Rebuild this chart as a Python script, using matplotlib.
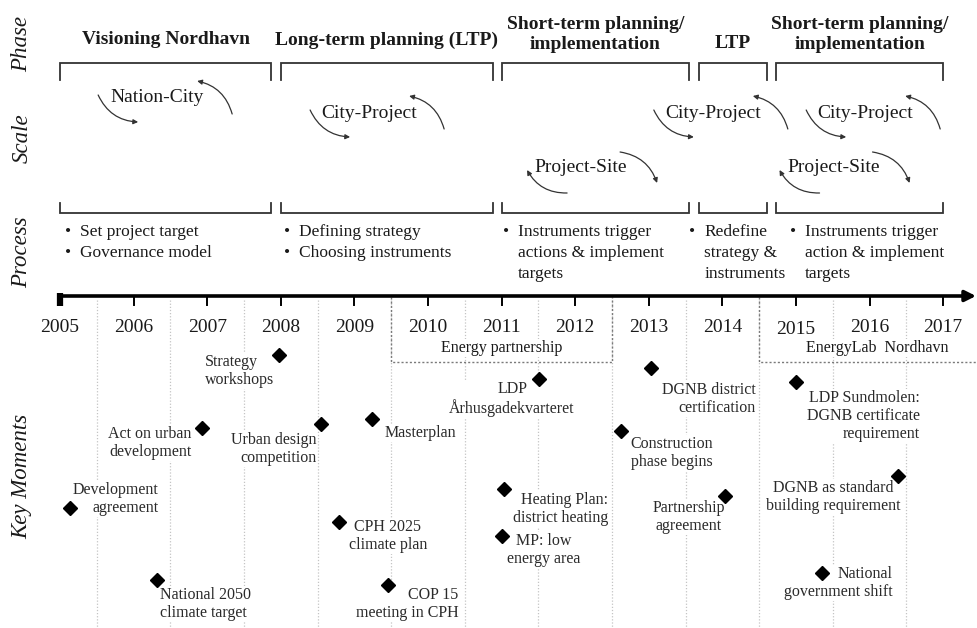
import matplotlib
matplotlib.use('Agg')
import matplotlib.pyplot as plt
from matplotlib.patches import FancyArrowPatch

SERIF = ['Liberation Serif', 'DejaVu Serif']
plt.rcParams['font.family'] = SERIF
INK = '#1a1a1a'

# ---------------- data ----------------
years = list(range(2005, 2018))

phase_names = ["Visioning Nordhavn", "Long-term planning (LTP)",
               "Short-term planning/\nimplementation", "LTP",
               "Short-term planning/\nimplementation"]
phase_starts = [2005.0, 2008.0, 2011.0, 2013.68, 2014.73]
phase_ends = [2007.87, 2010.88, 2013.55, 2014.60, 2017.0]

scale_labels = ["Nation-City", "City-Project", "City-Project", "City-Project",
                "Project-Site", "Project-Site"]
scale_x = [2006.32, 2009.20, 2013.87, 2015.94, 2012.08, 2015.51]
scale_kind = ["up", "up", "up", "up", "down", "down"]

process_bullets = [
    ["Set project target", "Governance model"],
    ["Defining strategy", "Choosing instruments"],
    ["Instruments trigger\nactions & implement\ntargets"],
    ["Redefine\nstrategy &\ninstruments"],
    ["Instruments trigger\naction & implement\ntargets"],
]

band_names = ["Energy partnership", "EnergyLab  Nordhavn"]
band_starts = [2009.5, 2014.5]
band_ends = [2012.5, None]

event_names = [
    "Development\nagreement", "National 2050\nclimate target",
    "Act on urban\ndevelopment", "Strategy\nworkshops",
    "Urban design\ncompetition", "CPH 2025\nclimate plan", "Masterplan",
    "COP 15\nmeeting in CPH", "LDP\nÅrhusgadekvarteret",
    "Heating Plan:\ndistrict heating", "MP: low\nenergy area",
    "Construction\nphase begins", "DGNB district\ncertification",
    "Partnership\nagreement", "LDP Sundmolen:\nDGNB certificate\nrequirement",
    "DGNB as standard\nbuilding requirement", "National\ngovernment shift",
]
event_years = [2005.14, 2006.32, 2006.93, 2007.98, 2008.55, 2008.79, 2009.24,
               2009.46, 2011.51, 2011.03, 2011.00, 2012.62, 2013.03, 2014.04,
               2015.00, 2016.39, 2015.35]
# vertical row of each moment (pixels from top of figure)
event_rows = [508, 580, 428, 355, 424, 522, 419, 585, 379, 489, 536, 431,
              368, 496, 382, 476, 573]

# ---------------- layout ----------------
W, H = 978, 628
PXY = 73.6            # pixels per year
X0 = 60               # pixel position of 2005
fig = plt.figure(figsize=(W / 100, H / 100), dpi=100)
ax = fig.add_axes([0, 0, 1, 1])
ax.set_xlim(2005 - X0 / PXY, 2005 + (W - X0) / PXY)
ax.set_ylim(H, 0)
ax.axis('off')


def px(n):
    return n / PXY


# side labels
for lab, yc in [("Phase", 44), ("Scale", 138), ("Process", 252), ("Key Moments", 476)]:
    ax.text(2005 - px(38), yc, lab, rotation=90, ha='center', va='center',
            fontsize=16.5, style='italic', color=INK)

# phase brackets + labels
for name, a, b in zip(phase_names, phase_starts, phase_ends):
    ax.plot([a, a, b, b], [80, 63, 63, 80], color='#333333', lw=1.3,
            solid_joinstyle='miter')
    ax.plot([a, a, b, b], [203, 213, 213, 203], color='#333333', lw=1.3,
            solid_joinstyle='miter')
    yc = 40 if '\n' not in name else 34.5
    if name == "LTP":
        yc = 44
    ax.text((a + b) / 2, yc, name, ha='center', va='center', fontsize=14,
            fontweight='bold', color=INK, linespacing=1.3)

# scale cycles
ARW = dict(arrowstyle='-|>', mutation_scale=7, lw=0.9, color='#333333',
           shrinkA=0, shrinkB=0)
for lab, xc, kind in zip(scale_labels, scale_x, scale_kind):
    if kind == 'up':
        yc = 98 if lab == "Nation-City" else 113
        ax.text(xc, yc, lab, ha='center', va='center', fontsize=14, color=INK)
        arrows = [((-59, -3), (-19, 24), 0.3), ((75, 16), (40, -17), 0.3)]
    else:
        yc = 168
        ax.text(xc, yc, lab, ha='center', va='center', fontsize=14, color=INK)
        arrows = [((-14, 25), (-54, 2), -0.3), ((39, -16), (76, 15), -0.3)]
    for (t, h, rad) in arrows:
        p = FancyArrowPatch((xc + px(t[0]), yc + t[1]), (xc + px(h[0]), yc + h[1]),
                            connectionstyle=f"arc3,rad={rad}", **ARW)
        ax.add_patch(p)

# process bullets
bullet_x = [2005.11, 2008.08, 2011.06, 2013.59, 2014.96]
for items, bx in zip(process_bullets, bullet_x):
    line = 0
    for it in items:
        sub = it.split('\n')
        ax.text(bx, 232 + 21 * line, "•", ha='center', va='center',
                fontsize=12.5, color=INK)
        for s in sub:
            ax.text(bx + px(12), 232 + 21 * line, s, ha='left', va='center',
                    fontsize=12.5, color=INK)
            line += 1

# vertical half-year guide lines
for y in years[:-1]:
    ax.plot([y + 0.5, y + 0.5], [300, H], color='#c4c4c4', lw=0.9,
            ls=(0, (1, 1.5)), zorder=0)

# bands
for name, a, b in zip(band_names, band_starts, band_ends):
    right = b if b is not None else ax.get_xlim()[1] + 0.1
    xs = [a, a, right] + ([right, right] if b is not None else [])
    ys = [297, 362, 362] + ([362, 297] if b is not None else [])
    ax.plot(xs, ys, color='#7a7a7a', lw=1.0, ls=(0, (1.5, 1.5)), zorder=1)
    cx = (a + b) / 2 if b is not None else 2016.1
    ax.text(cx, 348, name, ha='center', va='center', fontsize=11.5, color=INK,
            bbox=dict(fc='white', ec='none', pad=0.5))

# main axis
ax.annotate('', xy=(ax.get_xlim()[1] - px(2), 296), xytext=(2005, 296),
            arrowprops=dict(arrowstyle='-|>', lw=2.6, color='black',
                            mutation_scale=16, shrinkA=0, shrinkB=0))
ax.plot([2005, 2005], [293, 306], color='black', lw=4.5, solid_capstyle='butt')
for y in years[1:]:
    ax.plot([y, y], [296, 305], color='black', lw=1.4)
for y in years:
    ax.text(y, 330 if y == 2015 else 327, str(y), ha='center', va='center',
            fontsize=14, color=INK)

# key moments
label_off = [(88, -9, 'right'), (3, 24, 'left'), (-52, 15, 'center'),
             (-74, 16, 'left'), (-5, 25, 'right'), (49, 14, 'center'),
             (13, 14, 'left'), (70, 19, 'right'), (-27, 20, 'center'),
             (104, 20, 'right'), (42, 14, 'center'), (10, 22, 'left'),
             (105, 31, 'right'), (-37, 21, 'center'), (124, 34, 'right'),
             (-65, 21, 'center'), (71, 10, 'right')]
ax.plot(event_years, event_rows, ls='none', marker='D', markersize=7.5,
        color='black', zorder=5)
for name, ex, ey, (dx, dy, ha) in zip(event_names, event_years, event_rows, label_off):
    ax.text(ex + px(dx), ey + dy, name, ha=ha, va='center', multialignment=ha,
            fontsize=11.5, color='#2a2a2a', linespacing=1.15, zorder=4,
            bbox=dict(fc='white', ec='none', pad=0.6))

fig.savefig('out.png', dpi=100)
